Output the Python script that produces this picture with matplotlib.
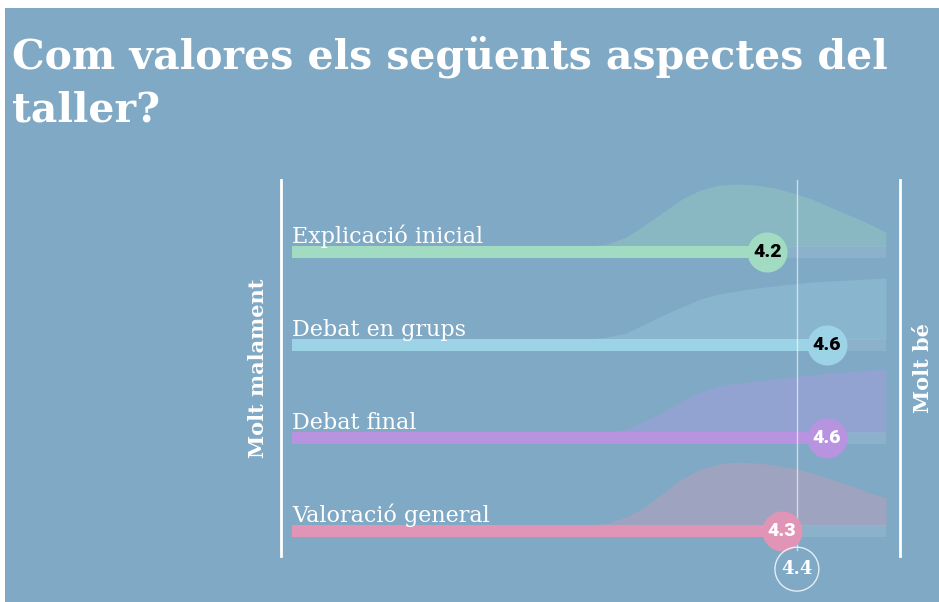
import matplotlib
matplotlib.use("Agg")
import matplotlib.pyplot as plt
from matplotlib.patches import Rectangle

# data
categories = ["Explicació inicial", "Debat en grups", "Debat final", "Valoració general"]
means = [4.2, 4.6, 4.6, 4.3]
overall = 4.4
grid = [3.0, 3.125, 3.25, 3.375, 3.5, 3.625, 3.75, 3.875, 4.0,
        4.125, 4.25, 4.375, 4.5, 4.625, 4.75, 4.875, 5.0]
dens_expl = [0, 2, 9, 21, 34, 47, 56, 61, 62, 61, 58, 53, 47, 39, 31, 23, 14]
dens_grups = [0, 2, 6, 15, 24, 32, 40, 45, 48, 51, 53, 55, 57, 58, 59, 60, 61]
dens_final = [0, 0, 3, 11, 20, 31, 40, 46, 49, 51, 53, 55, 57, 59, 60, 62, 63]
dens_general = [0, 2, 8, 18, 32, 46, 56, 61, 63, 62, 60, 57, 52, 46, 40, 33, 27]
densities = [dens_expl, dens_grups, dens_final, dens_general]

bar_colors = ["#a1dcc2", "#9dd3e6", "#b793e0", "#e195b6"]
fill_colors = ["#a3dcc0", "#a4d4ea", "#b09ae6", "#d99ab8"]
fill_alpha = [0.28, 0.30, 0.40, 0.35]
num_colors = ["black", "black", "white", "white"]
bg = "#7fa9c4"

fig = plt.figure(figsize=(9.39, 6.02), dpi=100)
fig.patch.set_facecolor("white")
fig.patches.append(Rectangle((5 / 939, 0), 1, 1 - 8 / 602, transform=fig.transFigure,
                             facecolor=bg, edgecolor="none", zorder=-1))

ax = fig.add_axes([0, 0, 1, 1])
ax.set_zorder(2)
ax.set_facecolor("none")
ax.set_xlim(1 - 292 / 148.5, 1 + (939 - 292) / 148.5)
ax.set_ylim((602 - 252) / 93, -252 / 93)
ax.axis("off")

bar_h = 12 / 93
scale = 1 / 93

for i, cat in enumerate(categories):
    base = i - bar_h / 2
    top = [base - d * scale for d in densities[i]]
    ax.fill_between(grid, base, top, color=fill_colors[i], alpha=fill_alpha[i], lw=0, zorder=1)
    ax.barh(i, 4, left=1, height=bar_h, color="white", alpha=0.10, lw=0, zorder=2)
    ax.barh(i, means[i] - 1, left=1, height=bar_h, color=bar_colors[i], lw=0, zorder=3)
    ax.scatter(means[i], i, s=830, color=bar_colors[i], lw=0, zorder=5)
    ax.text(means[i], i, f"{means[i]:.1f}", color=num_colors[i], ha="center", va="center",
            fontsize=14, fontweight="black", family="Roboto", zorder=6)
    ax.text(1, base - 3 / 93, cat, color="white", ha="left", va="baseline",
            fontsize=16, family="DejaVu Serif", zorder=6)

# reference line for the overall mean
ax.plot([overall, overall], [-0.77, 3.2], color="white", lw=1, alpha=0.6, zorder=4)
ax.scatter(overall, 3.41, s=1000, facecolor="none", edgecolor="white", lw=1, alpha=0.8, zorder=5)
ax.text(overall, 3.41, f"{overall:.1f}", color="white", ha="center", va="center",
        fontsize=13, fontweight="bold", family="DejaVu Serif", zorder=6)

# side rules
ax.plot([0.926, 0.926], [-0.77, 3.27], color="white", lw=2, zorder=4)
ax.plot([5.094, 5.094], [-0.77, 3.27], color="white", lw=2, zorder=4)
ax.text(0.77, 1.25, "Molt malament", rotation=90, color="white", ha="center", va="center",
        fontsize=15, fontweight="bold", family="DejaVu Serif")
ax.text(5.25, 1.25, "Molt bé", rotation=90, color="white", ha="center", va="center",
        fontsize=15, fontweight="bold", family="DejaVu Serif")

fig.text(12 / 939, 1 - 68 / 602, "Com valores els següents aspectes del", color="white",
         fontsize=29.5, fontweight="bold", family="DejaVu Serif", va="baseline")
fig.text(12 / 939, 1 - 122 / 602, "taller?", color="white",
         fontsize=29.5, fontweight="bold", family="DejaVu Serif", va="baseline")

fig.savefig("out.png", dpi=100)
